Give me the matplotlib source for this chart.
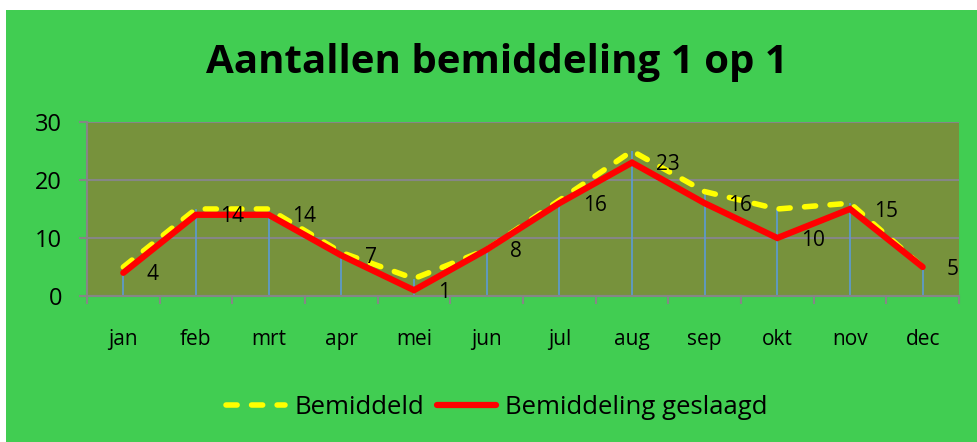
import matplotlib
matplotlib.use("Agg")
import matplotlib.pyplot as plt
from matplotlib.patches import Rectangle
import numpy as np

months = ["jan", "feb", "mrt", "apr", "mei", "jun", "jul", "aug", "sep", "okt", "nov", "dec"]
bemiddeld = [5, 15, 15, 7.5, 3, 8, 16.5, 25, 18, 15, 16, 5]
geslaagd = [4, 14, 14, 7, 1, 8, 16, 23, 16, 10, 15, 5]
title = "Aantallen bemiddeling 1 op 1"
yticks = [0, 10, 20, 30]

plt.rcParams['font.family'] = ['Open Sans', 'DejaVu Sans']

GREEN = "#41CD52"
PLOT = "#77923C"
GREY = "#868686"

fig = plt.figure(figsize=(9.77, 4.42), dpi=100)
fig.patch.set_facecolor("white")
fig.patches.append(Rectangle((6/977, 0), 1 - 6/977, 1 - 10/442, transform=fig.transFigure,
                             facecolor=GREEN, edgecolor="none", zorder=-10))

ax = fig.add_axes([87/977, 1 - 296/442, (959 - 87)/977, (296 - 122)/442])
ax.set_zorder(1)
ax.set_facecolor(PLOT)
x = np.arange(len(months))

ax.vlines(x, 0, bemiddeld, colors="#5B9BD5", linewidth=1.2, zorder=2)
ax.plot(x, bemiddeld, color="#FFFF00", linewidth=4, linestyle=(0, (2.0, 2.6)),
        dash_capstyle="round", solid_capstyle="round", zorder=3, label="Bemiddeld")
ax.plot(x, geslaagd, color="#FF0000", linewidth=4.5, solid_capstyle="round",
        solid_joinstyle="miter", zorder=4, label="Bemiddeling geslaagd")

for xi, v in zip(x, geslaagd):
    ax.annotate(str(v), (xi, v), xytext=(17, -1.5), textcoords="offset points",
                ha="left", va="center", fontsize=15, color="black", zorder=5)

ax.set_xlim(-0.5, len(months) - 0.5)
ax.set_ylim(0, 30)
ax.set_yticks(yticks)
ax.set_yticklabels([str(t) for t in yticks], fontsize=17)
ax.yaxis.grid(True, color=GREY, linewidth=1.5)
ax.set_axisbelow(True)
ax.set_xticks(x)
ax.set_xticklabels(months, fontsize=15)
ax.set_xticks(np.arange(-0.5, len(months)), minor=True)
ax.tick_params(axis="x", which="major", length=0, pad=24)
ax.tick_params(axis="x", which="minor", length=6, color=GREY, width=1.5)
ax.tick_params(axis="y", length=6, color=GREY, width=1.5, pad=12)
for s in ["top", "right"]:
    ax.spines[s].set_visible(False)
for s in ["left", "bottom"]:
    ax.spines[s].set_color(GREY)
    ax.spines[s].set_linewidth(1.5)

fig.text(497/977, 1 - 62/442, title, ha="center", va="center", fontsize=29,
         fontweight="bold", color="black")

handles, labels = ax.get_legend_handles_labels()
fig.legend(handles, labels, loc="center", bbox_to_anchor=(497/977, 1 - 407/442), ncol=2,
           frameon=False, fontsize=18.5, handlelength=2.3, columnspacing=0.5, handletextpad=0.35)

fig.savefig("out.png", dpi=100, facecolor=fig.get_facecolor())
